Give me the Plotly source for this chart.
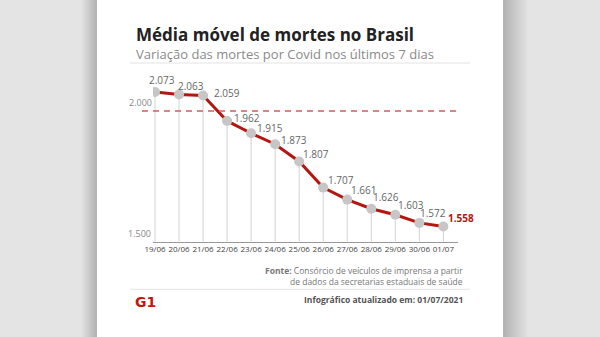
import plotly.graph_objects as go

# ---- data ----
dates = ["19/06", "20/06", "21/06", "22/06", "23/06", "24/06", "25/06",
         "26/06", "27/06", "28/06", "29/06", "30/06", "01/07"]
deaths_avg = [2073, 2063, 2059, 1962, 1915, 1873, 1807,
              1707, 1661, 1626, 1603, 1572, 1558]
ref_level = 2000
base_level = 1500

title = "Média móvel de mortes no Brasil"
subtitle = "Variação das mortes por Covid nos últimos 7 dias"
source_1 = "<b>Fonte:</b> Consórcio de veículos de imprensa a partir"
source_2 = "de dados da secretarias estaduais de saúde"
updated = "Infográfico atualizado em: 01/07/2021"

# label offsets (px) relative to each point: (xshift of left edge, yshift of centre)
label_offsets = [(-8, 12), (-3, 8.5), (9, 3), (4.5, 3.3), (4, 5.5), (4, 4), (2.3, 7),
                 (2.3, 7.6), (1.5, 10), (0.2, 11.5), (0.5, 10), (-1.8, 9.6), (2.4, 9)]

W, H = 600, 337
def px(x):
    return x / W
def py(y):
    return 1 - y / H

FONT = "Open Sans"
RED = "#b5160f"

def fmt(v):
    return f"{v:,}".replace(",", ".")

n = len(dates)
xs = list(range(n))

fig = go.Figure()

# drop lines
dx, dy = [], []
for i, v in zip(xs, deaths_avg):
    dx += [i, i, None]
    dy += [base_level, v, None]
fig.add_trace(go.Scatter(x=dx, y=dy, mode="lines",
                         line=dict(color="#d2d2d2", width=1),
                         hoverinfo="skip", showlegend=False))

# main line
fig.add_trace(go.Scatter(x=xs, y=deaths_avg, mode="lines+markers",
                         line=dict(color=RED, width=3),
                         marker=dict(color="#c6c6c6", size=10, line=dict(width=0)),
                         hoverinfo="skip", showlegend=False))

shapes = []
bg = "#e4e4e4"
shapes.append(dict(type="rect", xref="paper", yref="paper", x0=0, x1=1, y0=0, y1=1,
                   fillcolor=bg, line=dict(width=0), layer="below"))
steps = 10
for k in range(steps):
    t = k / (steps - 1)
    c = int(0xe4 - (0xe4 - 0xb4) * t)
    col = f"rgb({c},{c},{c})"
    x0 = 80 + k * 1.7
    shapes.append(dict(type="rect", xref="paper", yref="paper", x0=px(x0), x1=px(97),
                       y0=0, y1=1, fillcolor=col, line=dict(width=0), layer="below"))
    x1 = 530 - k * 2.7
    shapes.append(dict(type="rect", xref="paper", yref="paper", x0=px(503), x1=px(x1),
                       y0=0, y1=1, fillcolor=col, line=dict(width=0), layer="below"))
shapes.append(dict(type="rect", xref="paper", yref="paper", x0=px(97), x1=px(503),
                   y0=0, y1=1, fillcolor="white", line=dict(width=0), layer="below"))
for yy in (63, 289.3):
    shapes.append(dict(type="line", xref="paper", yref="paper", x0=px(130), x1=px(470),
                       y0=py(yy), y1=py(yy), line=dict(color="#e3e3e3", width=1)))
shapes.append(dict(type="line", xref="paper", yref="y", x0=px(142), x1=px(460),
                   y0=ref_level, y1=ref_level,
                   line=dict(color="#cf5f5f", width=1.5, dash="6px,5px")))

annotations = []
annotations.append(dict(text=f"<b>{title}</b>", xref="paper", yref="paper",
                        x=px(134), y=py(34), xanchor="left", yanchor="middle",
                        showarrow=False, font=dict(family=FONT, size=17, color="#222")))
annotations.append(dict(text=subtitle, xref="paper", yref="paper",
                        x=px(134), y=py(54.5), xanchor="left", yanchor="middle",
                        showarrow=False, font=dict(family=FONT, size=13, color="#8a8a8a")))
annotations.append(dict(text=fmt(ref_level), xref="paper", yref="y", x=px(154), y=ref_level,
                        xanchor="right", yanchor="bottom", showarrow=False,
                        font=dict(family=FONT, size=9, color="#888")))
annotations.append(dict(text=fmt(base_level), xref="paper", yref="y", x=px(153), y=base_level,
                        xanchor="right", yanchor="bottom", showarrow=False,
                        font=dict(family=FONT, size=9, color="#888")))
for i, (v, (ox, oy)) in enumerate(zip(deaths_avg, label_offsets)):
    last = i == n - 1
    annotations.append(dict(
        text=f"<b>{fmt(v)}</b>" if last else fmt(v),
        x=i, y=v, xref="x", yref="y", xanchor="left", yanchor="middle",
        xshift=ox, yshift=oy, showarrow=False,
        font=dict(family=FONT, size=10, color=RED if last else "#666666")))
annotations.append(dict(text=source_1, xref="paper", yref="paper", x=px(465), y=py(270.5),
                        xanchor="right", yanchor="middle", showarrow=False,
                        font=dict(family=FONT, size=8.5, color="#777")))
annotations.append(dict(text=source_2, xref="paper", yref="paper", x=px(465), y=py(281),
                        xanchor="right", yanchor="middle", showarrow=False,
                        font=dict(family=FONT, size=8.5, color="#777")))
annotations.append(dict(text=f"<b>{updated}</b>", xref="paper", yref="paper", x=px(465), y=py(299.5),
                        xanchor="right", yanchor="middle", showarrow=False,
                        font=dict(family=FONT, size=8.5, color="#555")))
annotations.append(dict(text="<b>G1</b>", xref="paper", yref="paper", x=px(133), y=py(301.5),
                        xanchor="left", yanchor="middle", showarrow=False,
                        font=dict(family="DejaVu Sans", size=14, color="#c4170c")))

px_per_idx = 24.03
x_left, x_right = 153, 458
first_x = 155
y_base_px, y_top_px = 241.7, 80
px_per_unit = 0.2614

fig.update_layout(
    width=W, height=H,
    margin=dict(l=0, r=0, t=0, b=0, pad=0, autoexpand=False),
    paper_bgcolor=bg, plot_bgcolor="rgba(0,0,0,0)",
    shapes=shapes, annotations=annotations,
    hovermode=False,
    xaxis=dict(domain=[px(x_left), px(x_right)], automargin=False,
               range=[(x_left - first_x) / px_per_idx, (x_right - first_x) / px_per_idx],
               tickvals=xs, ticktext=dates, tickangle=0, showgrid=False, zeroline=False,
               showline=True, linecolor="#999", linewidth=1, ticks="",
               tickfont=dict(family=FONT, size=8, color="#444"), fixedrange=True),
    yaxis=dict(domain=[py(y_base_px), py(y_top_px)], automargin=False,
               range=[base_level, base_level + (y_base_px - y_top_px) / px_per_unit],
               visible=False, fixedrange=True),
    showlegend=False,
)

fig.write_html("out.html", config={"displayModeBar": False, "staticPlot": True})
